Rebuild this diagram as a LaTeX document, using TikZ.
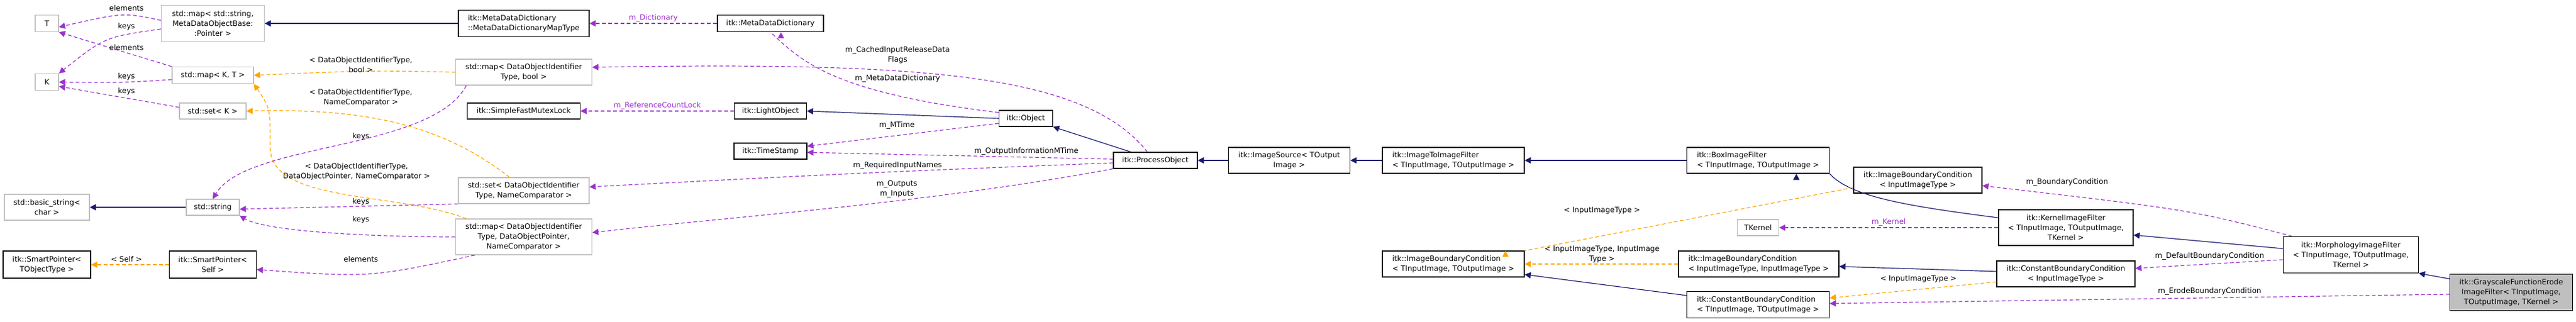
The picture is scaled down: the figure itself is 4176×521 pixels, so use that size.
\documentclass[tikz,border=0pt]{standalone}
\usepackage{fontspec}
\setmainfont{DejaVu Sans}
\usetikzlibrary{arrows.meta}
\definecolor{navy}{HTML}{191970}
\definecolor{orng}{HTML}{FFA500}
\definecolor{purp}{HTML}{9A32CD}
\definecolor{gbord}{HTML}{BFBFBF}
\begin{document}
\begin{tikzpicture}[x=0.5pt,y=-0.5pt,
  font=\fontsize{6}{8}\selectfont,
  bx/.style={draw=black,line width=0.6pt,fill=white,inner sep=0pt,align=center},
  gb/.style={bx,draw=gbord},
  bw/.style={minimum width=#1*0.5pt},
  bh/.style={minimum height=#1*0.5pt},
  inh/.style={navy,line width=0.6pt,-{Triangle[length=5pt,width=5pt]}},
  tpl/.style={orng,line width=0.6pt,dash pattern=on 3pt off 2pt,-{Triangle[length=5pt,width=5pt]}},
  use/.style={purp,line width=0.6pt,dash pattern=on 3pt off 2pt,-{Triangle[length=5pt,width=5pt]}},
  lb/.style={inner sep=0pt,align=center}]
\useasboundingbox (0,0) rectangle (4176,521);
% nodes
\node[gb,bw=38,bh=27] (T) at (76,38) {T};
\node[gb,bw=38,bh=27] (K) at (76,133) {K};
\node[gb,bw=167,bh=59] (mapSM) at (345,38) {std::map< std::string,\\MetaDataObjectBase:\\:Pointer >};
\node[gb,bw=132,bh=27] (mapKT) at (345,122) {std::map< K, T >};
\node[gb,bw=108,bh=26] (setK) at (345,180) {std::set< K >};
\node[gb,bw=138,bh=42] (bstr) at (76,336) {std::basic\_string<\\char >};
\node[gb,bw=86,bh=26] (str) at (345,336) {std::string};
\node[bx,bw=142,bh=44] (spT) at (76,429) {itk::SmartPointer<\\TObjectType >};
\node[bx,bw=141,bh=44] (spS) at (345,429) {itk::SmartPointer<\\Self >};
\node[bx,bw=212,bh=43,align=left] (mdmt) at (849,38) {itk::MetaDataDictionary\\::MetaDataDictionaryMapType};
\node[bx,bw=172,bh=27] (mdd) at (1249,38) {itk::MetaDataDictionary};
\node[gb,bw=221,bh=42] (mapB) at (849,117) {std::map< DataObjectIdentifier\\Type, bool >};
\node[bx,bw=183,bh=26] (mutex) at (849,180) {itk::SimpleFastMutexLock};
\node[bx,bw=117,bh=26] (light) at (1249,180) {itk::LightObject};
\node[bx,bw=118,bh=26] (ts) at (1249,245) {itk::TimeStamp};
\node[gb,bw=212,bh=42] (setN) at (849,309) {std::set< DataObjectIdentifier\\Type, NameComparator >};
\node[gb,bw=221,bh=58] (mapN) at (849,384) {std::map< DataObjectIdentifier\\Type, DataObjectPointer,\\NameComparator >};
\node[bx,bw=87,bh=26] (obj) at (1663,192) {itk::Object};
\node[bx,bw=136,bh=26] (po) at (1873,260) {itk::ProcessObject};
\node[bx,bw=197,bh=42] (isrc) at (2090,260) {itk::ImageSource< TOutput\\Image >};
\node[bx,bw=230,bh=42,align=left] (i2i) at (2356,260) {itk::ImageToImageFilter\\< TInputImage, TOutputImage >};
\node[bx,bw=231,bh=42,align=left] (box) at (2850,260) {itk::BoxImageFilter\\< TInputImage, TOutputImage >};
\node[bx,bw=230,bh=42,align=left] (ibcTT) at (2356,428) {itk::ImageBoundaryCondition\\< TInputImage, TOutputImage >};
\node[bx,bw=260,bh=42,align=left] (ibcII) at (2851,428) {itk::ImageBoundaryCondition\\< InputImageType, InputImageType >};
\node[bx,bw=231,bh=43,align=left] (cbcTT) at (2850,494) {itk::ConstantBoundaryCondition\\< TInputImage, TOutputImage >};
\node[bx,bw=208,bh=42] (ibcI) at (3109,292) {itk::ImageBoundaryCondition\\< InputImageType >};
\node[gb,bw=67,bh=26] (tk) at (2850,369) {TKernel};
\node[bx,bw=218,bh=58] (kif) at (3349,369) {itk::KernelImageFilter\\< TInputImage, TOutputImage,\\TKernel >};
\node[bx,bw=224,bh=42] (cbcI) at (3349,444) {itk::ConstantBoundaryCondition\\< InputImageType >};
\node[bx,bw=219,bh=59] (morph) at (3811,413) {itk::MorphologyImageFilter\\< TInputImage, TOutputImage,\\TKernel >};
\node[bx,fill=gbord,bw=199,bh=59] (gray) at (4071,474) {itk::GrayscaleFunctionErode\\ImageFilter< TInputImage,\\TOutputImage, TKernel >};
% inheritance
\draw[inh] (mdmt.west) -- (mapSM.east);
\draw[inh] (str.west) -- (bstr.east);
\draw[inh] (obj.west) -- (light.east);
\draw[inh] (po.north west) ++(29,0) -- (obj.south east);
\draw[inh] (isrc.west) -- (po.east);
\draw[inh] (i2i.west) -- (isrc.east);
\draw[inh] (box.west) -- (i2i.east);
\draw[inh] (kif.west |- 0,353) .. controls (3100,335) and (3000,320) .. (box.south east) ++(-54,0);
\draw[inh] (morph.west |- 0,403) -- (kif.east |- 0,381);
\draw[inh] (gray.west |- 0,452) -- (morph.south east);
\draw[inh] (cbcTT.west |- 0,479) -- (ibcTT.east |- 0,445);
\draw[inh] (cbcI.west |- 0,440) -- (ibcII.east |- 0,432);
% templates
\draw[tpl] (mapB.west) .. controls (600,114) .. (mapKT.east);
\draw[tpl] (setN.north) ++(-23,0) .. controls (720,205) and (600,175) .. (setK.east);
\draw[tpl] (mapN.north west) ++(18,0) .. controls (640,310) and (440,330) .. (438,240) .. controls (438,175) .. (mapKT.south east);
\draw[tpl] (spS.west) -- (spT.east);
\draw[tpl] (ibcI.west |- 0,304) -- (ibcTT.north east) ++(-31,0);
\draw[tpl] (ibcII.west) -- (ibcTT.east);
\draw[tpl] (cbcI.west |- 0,457) -- (cbcTT.east |- 0,483);
% usage
\draw[use] (mapSM.west |- 0,33) .. controls (200,20) .. (T.east |- 0,44);
\draw[use] (mapSM.west |- 0,47) .. controls (170,60) .. (K.north east);
\draw[use] (mapKT.north west) -- (T.south east);
\draw[use] (mapKT.west |- 0,129) .. controls (200,134) .. (K.east);
\draw[use] (setK.west |- 0,174) -- (K.east |- 0,140);
\draw[use] (mapB.south west) ++(18,0) .. controls (700,245) and (400,230) .. (str.north);
\draw[use] (setN.south west) -- (str.east |- 0,339);
\draw[use] (mapN.west) .. controls (600,384) and (430,375) .. (str.south east);
\draw[use] (mapN.south west) ++(32,0) .. controls (600,450) .. (spS.east |- 0,437);
\draw[use] (mdd.west) -- node[lb,above=1pt] {m\_Dictionary} (mdmt.east);
\draw[use] (obj.north west) ++(0,4) .. controls (1350,150) and (1300,100) .. (mdd.south) ++(17,0);
\draw[use] (po.north) ++(-13,0) .. controls (1760,120) and (1500,100) .. (mapB.east |- 0,109);
\draw[use] (light.west) -- node[lb,above=1pt] {m\_ReferenceCountLock} (mutex.east);
\draw[use] (obj.west |- 0,200) -- (ts.east |- 0,237);
\draw[use] (po.west |- 0,258) -- (ts.east |- 0,247);
\draw[use] (po.west |- 0,264) .. controls (1400,280) .. (setN.east |- 0,303);
\draw[use] (po.south west) .. controls (1500,330) and (1200,350) .. (mapN.east |- 0,377);
\draw[use] (kif.west) -- node[lb,above=1pt] {m\_Kernel} (tk.east);
\draw[use] (morph.north west) ++(15,0) .. controls (3550,340) .. (ibcI.east |- 0,301);
\draw[use] (morph.west |- 0,421) -- (cbcI.east |- 0,435);
\draw[use] (gray.west |- 0,477) -- (cbcTT.east |- 0,492);
% labels
\node[lb] (l1) at (205,13) {elements};
\node[lb] (l2) at (205,43) {keys};
\node[lb] (l3) at (205,77) {elements};
\node[lb] (l4) at (205,124) {keys};
\node[lb] (l5) at (205,148) {keys};
\node[lb] (l6) at (205,420) {< Self >};
\node[lb] (l7) at (585,105) {< DataObjectIdentifierType,\\bool >};
\node[lb] (l8) at (585,158) {< DataObjectIdentifierType,\\NameComparator >};
\node[lb] (l9) at (585,221) {keys};
\node[lb] (l10) at (578,278) {< DataObjectIdentifierType,\\DataObjectPointer, NameComparator >};
\node[lb] (l11) at (585,327) {keys};
\node[lb] (l12) at (585,356) {keys};
\node[lb] (l13) at (585,420) {elements};
\node[lb] (l14) at (1455,89) {m\_CachedInputReleaseData\\Flags};
\node[lb] (l15) at (1455,127) {m\_MetaDataDictionary};
\node[lb] (l16) at (1454,203) {m\_MTime};
\node[lb] (l17) at (1664,245) {m\_OutputInformationMTime};
\node[lb] (l18) at (1455,268) {m\_RequiredInputNames};
\node[lb] (l19) at (1454,306) {m\_Outputs\\m\_Inputs};
\node[lb] (l20) at (2597,341) {< InputImageType >};
\node[lb] (l21) at (2597,412) {< InputImageType, InputImage\\Type >};
\node[lb] (l22) at (3351,295) {m\_BoundaryCondition};
\node[lb] (l23) at (3110,452) {< InputImageType >};
\node[lb] (l24) at (3582,415) {m\_DefaultBoundaryCondition};
\node[lb] (l25) at (3582,472) {m\_ErodeBoundaryCondition};
\end{tikzpicture}
\end{document}
